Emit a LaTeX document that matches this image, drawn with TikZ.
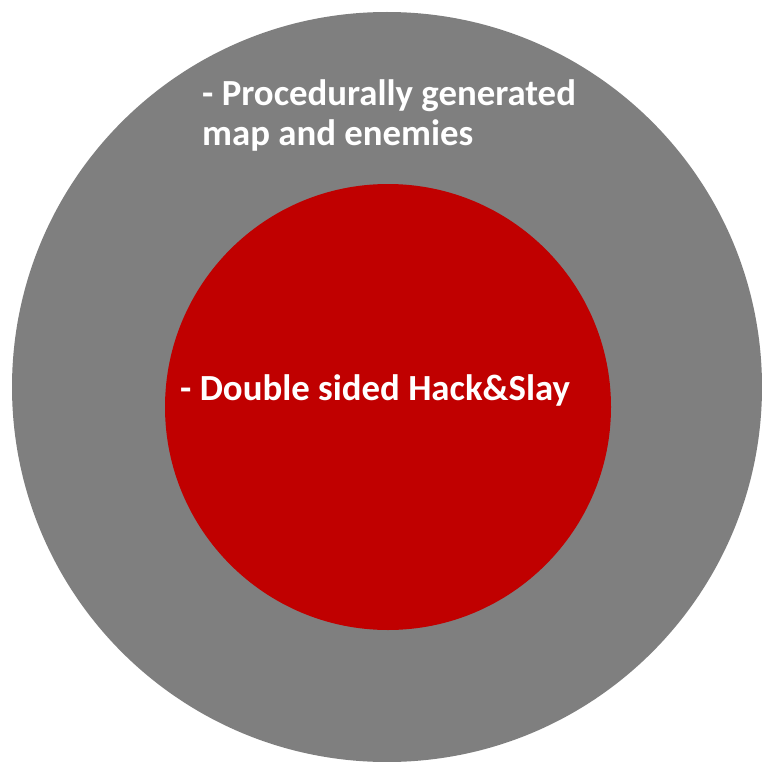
\documentclass[tikz,border=0pt]{standalone}
\usepackage{fontspec}
\setmainfont{Carlito}
\definecolor{ringgray}{HTML}{7F7F7F}
\definecolor{corered}{HTML}{C00000}
\tikzset{
  label text/.style={text=white, font=\fontsize{36.8}{40}\selectfont\bfseries, inner sep=0pt, align=left, anchor=base west},
}
\begin{document}
\begin{tikzpicture}[x=1pt,y=-1pt]
\useasboundingbox (0,0) rectangle (761,762);
\fill[ringgray] (387,387) circle[radius=375];
\fill[corered] (388,407) circle[radius=223];
\node[label text] (outer) at (202,146) {- Procedurally generated\\map and enemies};
\node[label text] (inner) at (180,400) {- Double sided Hack\&Slay};
\end{tikzpicture}
\end{document}
